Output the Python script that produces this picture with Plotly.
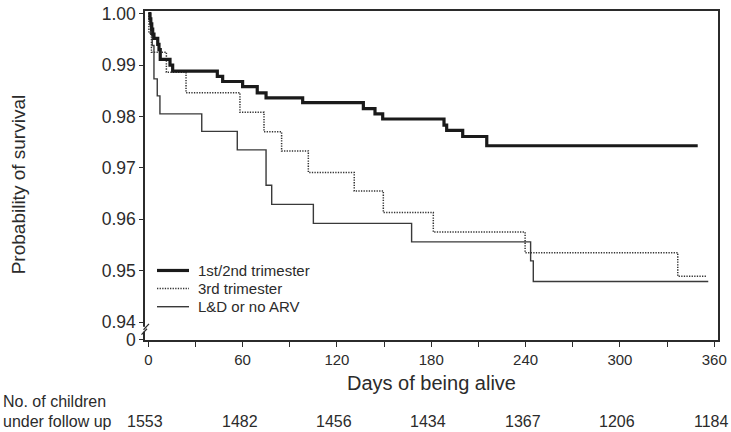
import plotly.graph_objects as go

# ---- data ----
group_names = ["1st/2nd trimester", "3rd trimester", "L&D or no ARV"]

first_second_days = [0, 1.0, 1.6, 2.2, 2.8, 3.6, 6.0, 6.8, 7.6, 13.8, 15.5, 43.9, 47.3, 60.0,
                     69.3, 74.9, 98.2, 136.8, 144.2, 149.1, 188.1, 189.8, 200.0, 215.3, 349.5]
first_second_surv = [1.0, 0.999, 0.998, 0.997, 0.996, 0.9952, 0.994, 0.993, 0.9911, 0.990, 0.9888,
                     0.9878, 0.9868, 0.9858, 0.9846, 0.9836, 0.9827, 0.9815, 0.9805, 0.9795,
                     0.9783, 0.9773, 0.9761, 0.9743, 0.9743]

third_days = [0, 0.4, 2.0, 11.5, 24.0, 58.3, 73.6, 84.8, 101.8, 131.0, 149.5, 181.3, 239.7, 336.8, 355.2]
third_surv = [1.0, 0.9962, 0.9925, 0.9886, 0.9846, 0.9808, 0.9770, 0.9733, 0.9691, 0.9655,
              0.9613, 0.9575, 0.9535, 0.9489, 0.9489]

ld_days = [0, 1.5, 2.5, 3.6, 5.7, 7.4, 34.0, 56.6, 74.9, 78.5, 105.0, 167.5, 243.2, 244.9, 356.2]
ld_surv = [1.0, 0.996, 0.9938, 0.9873, 0.9840, 0.9805, 0.9771, 0.9735, 0.9666, 0.9629,
           0.9592, 0.9556, 0.9519, 0.9479, 0.9479]

x_tick_vals = [0, 30, 60, 90, 120, 150, 180, 210, 240, 270, 300, 330, 360]
x_tick_text = ["0", "", "60", "", "120", "", "180", "", "240", "", "300", "", "360"]
y_tick_vals = [0.93652, 0.94, 0.95, 0.96, 0.97, 0.98, 0.99, 1.00]
y_tick_text = ["0", "0.94", "0.95", "0.96", "0.97", "0.98", "0.99", "1.00"]

at_risk_days = [0, 60, 120, 180, 240, 300, 360]
at_risk_counts = [1553, 1482, 1456, 1434, 1367, 1206, 1184]

FONT = "Arial, Liberation Sans, sans-serif"
INK = "#2b2b2b"

styles = [
    dict(color="#1a1a1a", width=3.2),
    dict(color="#333333", width=1.5, dash="1.3px,1.3px"),
    dict(color="#3a3a3a", width=1.4),
]
series = [
    (first_second_days, first_second_surv),
    (third_days, third_surv),
    (ld_days, ld_surv),
]

fig = go.Figure()
# draw thin first, thick last (on top)
for i in [2, 1, 0]:
    d, s = series[i]
    fig.add_trace(go.Scatter(x=d, y=s, mode="lines", name=group_names[i],
                             line=dict(shape="hv", **styles[i]), showlegend=False))

W, H = 731, 432
L, R, T, B = 145, 13, 4, 92
PW, PH = W - L - R, H - T - B


def px_x(p):
    return (p - L) / PW


def px_y(p):
    return (H - B - p) / PH


shapes = [
    # mask for the axis break
    dict(type="rect", xref="paper", yref="paper", x0=px_x(142), x1=px_x(148),
         y0=px_y(331.5), y1=px_y(326.5), fillcolor="white", line=dict(width=0), layer="above"),
    dict(type="line", xref="paper", yref="paper", x0=px_x(143.5), y0=px_y(329.5),
         x1=px_x(149), y1=px_y(323.5), line=dict(color=INK, width=1.2), layer="above"),
    dict(type="line", xref="paper", yref="paper", x0=px_x(141.5), y0=px_y(334.5),
         x1=px_x(147), y1=px_y(328.5), line=dict(color=INK, width=1.2), layer="above"),
]

annotations = [
    dict(text="Probability of survival", xref="paper", yref="paper", x=px_x(18), y=px_y(181),
         textangle=-90, showarrow=False, font=dict(size=19, color=INK, family=FONT),
         xanchor="center", yanchor="middle"),
    dict(text="Days of being alive", xref="paper", yref="paper", x=0.5, y=px_y(384),
         showarrow=False, font=dict(size=20, color=INK, family=FONT),
         xanchor="center", yanchor="middle"),
    dict(text="No. of children", xref="paper", yref="paper", x=px_x(1), y=px_y(403),
         showarrow=False, font=dict(size=16, color=INK, family=FONT),
         xanchor="left", yanchor="middle"),
    dict(text="under follow up", xref="paper", yref="paper", x=px_x(1), y=px_y(423),
         showarrow=False, font=dict(size=16, color=INK, family=FONT),
         xanchor="left", yanchor="middle"),
]
for d, c in zip(at_risk_days, at_risk_counts):
    annotations.append(dict(text=str(c), xref="x", yref="paper", x=d, y=px_y(423),
                            xshift=-3, showarrow=False,
                            font=dict(size=16, color=INK, family=FONT),
                            xanchor="center", yanchor="middle"))

# legend (key lines + labels)
legend_rows = [269, 287.5, 306]
for i, row in enumerate(legend_rows):
    shapes.append(dict(type="line", xref="paper", yref="paper",
                       x0=px_x(157), x1=px_x(189), y0=px_y(row), y1=px_y(row),
                       line=styles[i], layer="above"))
    annotations.append(dict(text=group_names[i], xref="paper", yref="paper",
                            x=px_x(196), y=px_y(row), showarrow=False,
                            font=dict(size=15, color=INK, family=FONT),
                            xanchor="left", yanchor="middle"))

fig.update_layout(
    width=W, height=H, autosize=False,
    margin=dict(l=L, r=R, t=T, b=B, pad=0),
    paper_bgcolor="white", plot_bgcolor="white",
    font=dict(family=FONT, color=INK),
    showlegend=False,
    xaxis=dict(range=[-2.1, 362.4], tickmode="array", tickvals=x_tick_vals, ticktext=x_tick_text,
               ticks="outside", ticklen=5, tickwidth=1.3, tickcolor=INK,
               showline=True, linewidth=1.5, linecolor=INK, mirror=True,
               showgrid=False, zeroline=False, ticklabeloverflow="allow",
               tickfont=dict(size=15, color=INK, family=FONT)),
    yaxis=dict(range=[0.93651, 1.00051], tickmode="array", tickvals=y_tick_vals, ticktext=y_tick_text,
               ticks="outside", ticklen=4, tickwidth=1.3, tickcolor=INK,
               showline=True, linewidth=1.5, linecolor=INK, mirror=True,
               showgrid=False, zeroline=False, ticklabeloverflow="allow",
               tickfont=dict(size=17.5, color=INK, family=FONT)),
    shapes=shapes,
    annotations=annotations,
)

fig.write_html("out.html", config={"displayModeBar": False},
               post_script="document.body.style.margin='0px';")
